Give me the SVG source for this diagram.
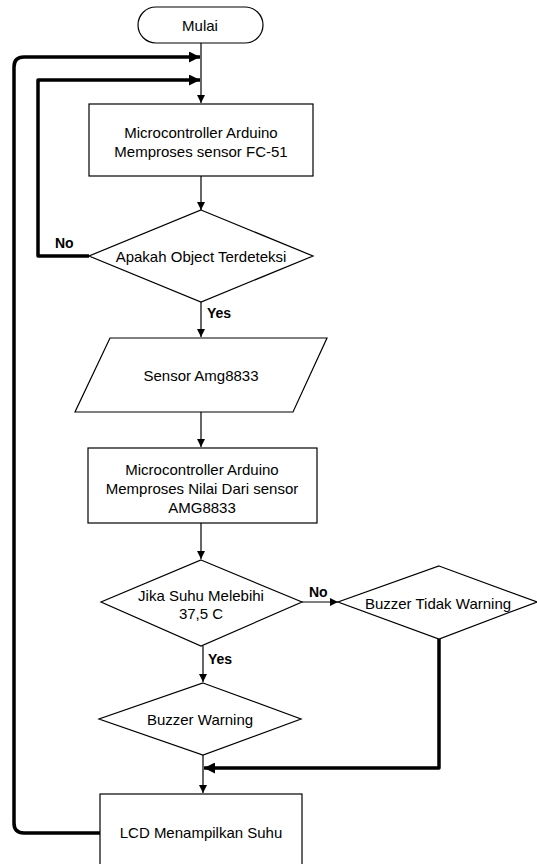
<svg xmlns="http://www.w3.org/2000/svg" width="537" height="864" viewBox="0 0 537 864">
<style>
.s{fill:#fff;stroke:#000;stroke-width:1.2}
.t{font-family:"Liberation Sans",Arial,sans-serif;font-size:15px;fill:#000;text-anchor:middle}
.l{font-family:"Liberation Sans",Arial,sans-serif;font-size:14px;font-weight:bold;fill:#000}
.c{fill:none;stroke:#000;stroke-width:1.2}
.k{fill:none;stroke:#000;stroke-width:3.5;stroke-linejoin:round}
</style>
<defs>
<marker id="a" viewBox="0 0 10 10" refX="10" refY="5" markerWidth="8" markerHeight="8" markerUnits="userSpaceOnUse" orient="auto"><path d="M0,0L10,5L0,10Z" fill="#000"/></marker>
<marker id="b" viewBox="0 0 10 10" refX="10" refY="5" markerWidth="15" markerHeight="11" markerUnits="userSpaceOnUse" orient="auto"><path d="M0,0L10,5L0,10Z" fill="#000"/></marker>
</defs>
<g id="connectors">
<path class="c" d="M201,43V103" marker-end="url(#a)"/>
<path class="c" d="M201,176V210" marker-end="url(#a)"/>
<path class="c" d="M201,302V337" marker-end="url(#a)"/>
<path class="c" d="M201,412V447" marker-end="url(#a)"/>
<path class="c" d="M201,523V559" marker-end="url(#a)"/>
<path class="c" d="M302,602H338" marker-end="url(#a)"/>
<path class="c" d="M203,646V682" marker-end="url(#a)"/>
<path class="c" d="M203,755V793" marker-end="url(#a)"/>
<path class="k" d="M89,256H38V80H200" marker-end="url(#b)"/>
<path class="k" d="M100,833H24Q14,833 14,823V67Q14,57 24,57H200" marker-end="url(#b)"/>
<path class="k" d="M439,639V768H204" marker-end="url(#b)"/>
<text class="l" x="55" y="248">No</text>
<text class="l" x="207" y="318">Yes</text>
<text class="l" x="309" y="597">No</text>
<text class="l" x="208" y="664">Yes</text>
</g>
<g id="start">
<rect class="s" x="138" y="7" width="125" height="36" rx="18"/>
<text class="t" x="200" y="31">Mulai</text>
</g>
<g id="proc1">
<rect class="s" x="89" y="104" width="224" height="72"/>
<text class="t" x="201" y="138">Microcontroller Arduino</text>
<text class="t" x="201" y="157">Memproses sensor FC-51</text>
</g>
<g id="dec1">
<polygon class="s" points="201,210 313,256 201,302 89,256"/>
<text class="t" x="201" y="262">Apakah Object Terdeteksi</text>
</g>
<g id="input">
<polygon class="s" points="110,338 327,338 293,412 75,412"/>
<text class="t" x="201" y="381">Sensor Amg8833</text>
</g>
<g id="proc2">
<rect class="s" x="88" y="448" width="229" height="75"/>
<text class="t" x="202" y="475">Microcontroller Arduino</text>
<text class="t" x="202" y="494">Memproses Nilai Dari sensor</text>
<text class="t" x="202" y="513">AMG8833</text>
</g>
<g id="dec2">
<polygon class="s" points="201,560 302,602 201,646 101,602"/>
<text class="t" x="201" y="601">Jika Suhu Melebihi</text>
<text class="t" x="201" y="619">37,5 C</text>
</g>
<g id="dec3">
<polygon class="s" points="439,566 537,602 439,639 338,602"/>
<text class="t" x="438" y="609">Buzzer Tidak Warning</text>
</g>
<g id="dec4">
<polygon class="s" points="203,683 301,719 203,755 99,719"/>
<text class="t" x="200" y="725">Buzzer Warning</text>
</g>
<g id="lcd">
<rect class="s" x="100" y="794" width="202" height="80"/>
<text class="t" x="201" y="838">LCD Menampilkan Suhu</text>
</g>
</svg>
